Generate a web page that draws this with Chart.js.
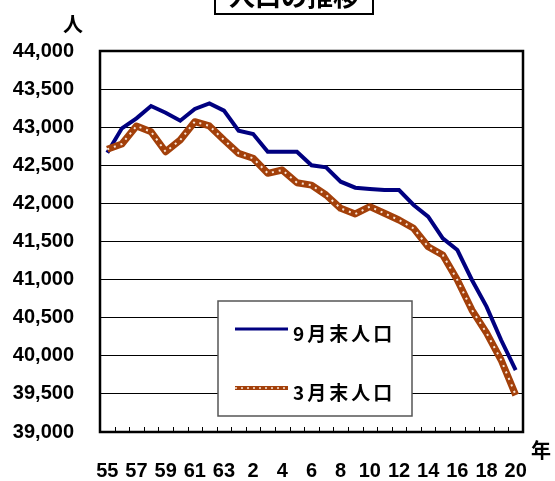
<!DOCTYPE html>
<html>
<head>
<meta charset="utf-8">
<script src="https://cdn.jsdelivr.net/npm/chart.js@4/dist/chart.umd.min.js"></script>
<style>
  html, body { margin:0; padding:0; background:#fff; }
  #wrap { width:555px; height:481px; }
</style>
</head>
<body>
<div id="wrap"><canvas id="popChart" width="555" height="481"></canvas></div>
<script>
// 昭和55年〜平成20年
const years = ['55','56','57','58','59','60','61','62','63','1','2','3','4','5','6','7','8','9','10','11','12','13','14','15','16','17','18','19','20'];
const sepPop = [42665,42985,43117,43278,43190,43085,43239,43313,43217,42954,42911,42678,42678,42678,42500,42474,42285,42206,42189,42176,42176,41979,41825,41542,41388,40995,40645,40207,39813];
const marPop = [42710,42780,43016,42941,42678,42832,43072,43016,42832,42657,42592,42395,42438,42272,42240,42110,41935,41861,41957,41870,41782,41673,41431,41323,40995,40601,40300,39945,39485];
const yMin = 39000, yMax = 44000, yStep = 500;

const BLUE = '#000080', BROWN = '#a3400a', DOT = 'rgba(255,238,225,0.95)';
const JP = '"Noto Sans CJK JP", sans-serif';

// white dots on the 3月 line
function dotPath(ctx, pts){
  ctx.beginPath();
  pts.forEach((p,i)=>{ i ? ctx.lineTo(p.x,p.y) : ctx.moveTo(p.x,p.y); });
}

const decor = {
  id:'decor',
  afterDatasetsDraw(chart){
    const ctx = chart.ctx, a = chart.chartArea;
    const meta = chart.getDatasetMeta(1);
    ctx.save();
    ctx.beginPath(); ctx.rect(a.left,a.top,a.right-a.left,a.bottom-a.top); ctx.clip();
    dotPath(ctx, meta.data);
    ctx.strokeStyle = DOT; ctx.lineWidth = 2; ctx.setLineDash([2,5]); ctx.lineJoin='round';
    ctx.stroke();
    ctx.restore();
  },
  afterDraw(chart){
    const ctx = chart.ctx, a = chart.chartArea, xs = chart.scales.x;
    ctx.save();
    // plot frame
    ctx.strokeStyle = '#000'; ctx.lineWidth = 2.5;
    ctx.strokeRect(a.left, a.top, a.right-a.left, a.bottom-a.top);
    // inward tick marks on x axis
    const step = xs.getPixelForValue(1) - xs.getPixelForValue(0);
    ctx.lineWidth = 1;
    for(let i=0;i<=years.length;i++){
      const x = Math.round(xs.getPixelForValue(0) - step/2 + i*step) + 0.5;
      ctx.beginPath(); ctx.moveTo(x, a.bottom); ctx.lineTo(x, a.bottom-5); ctx.stroke();
    }
    // legend
    const lx=218, ly=301, lw=194, lh=115;
    ctx.fillStyle='#fff'; ctx.fillRect(lx,ly,lw,lh);
    ctx.strokeStyle='#555'; ctx.lineWidth=1.5; ctx.strokeRect(lx,ly,lw,lh);
    const ds = chart.data.datasets;
    const rows = [ {d:ds[0], y:329}, {d:ds[1], y:388} ];
    rows.forEach((r,k)=>{
      ctx.setLineDash([]);
      ctx.beginPath(); ctx.moveTo(235,r.y); ctx.lineTo(288,r.y);
      ctx.strokeStyle = r.d.borderColor; ctx.lineWidth = k ? 4 : 3; ctx.stroke();
      if(k){ ctx.strokeStyle = DOT; ctx.lineWidth = 1.5; ctx.setLineDash([2,4]); ctx.stroke(); ctx.setLineDash([]); }
      ctx.fillStyle='#000'; ctx.font = 'bold 19px '+JP; ctx.textBaseline='middle'; ctx.textAlign='left';
      ctx.letterSpacing = '3px';
      ctx.fillText(r.d.label, 293, r.y+5);
      ctx.letterSpacing = '0px';
    });
    // title box (cut at top)
    ctx.strokeStyle='#000'; ctx.lineWidth=2;
    ctx.strokeRect(215,-10,158,24);
    ctx.font='bold 26px '+JP; ctx.textAlign='center'; ctx.textBaseline='alphabetic';
    ctx.fillText('人口の推移', 294, 6);
    // unit labels
    ctx.font='bold 20px '+JP; ctx.textBaseline='middle';
    ctx.fillText('人', 73, 24);
    ctx.fillText('年', 541, 450);
    ctx.restore();
  }
};

new Chart(document.getElementById('popChart'), {
  type:'line',
  data:{
    labels: years,
    datasets:[
      {label:'9月末人口', data:sepPop, borderColor:BLUE, borderWidth:4, pointRadius:0, tension:0, order:1},
      {label:'3月末人口', data:marPop, borderColor:BROWN, borderWidth:7, pointRadius:0, tension:0, order:0, borderJoinStyle:'round'}
    ]
  },
  options:{
    responsive:false, animation:false,
    layout:{padding:{left:0, right:32, top:51, bottom:0}},
    plugins:{legend:{display:false}, tooltip:{enabled:false}, title:{display:false}},
    scales:{
      x:{
        offset:true,
        grid:{display:false, drawTicks:false},
        border:{display:false},
        afterFit(s){ s.height = 49; },
        ticks:{autoSkip:false, maxRotation:0, padding:27, color:'#000',
          font:{family:'"Liberation Sans", Arial, sans-serif', size:20, weight:'bold'},
          callback(v,i){ return i%2===0 ? years[i] : ''; }}
      },
      y:{
        min:yMin, max:yMax,
        grid:{color:'#000', lineWidth:1, drawTicks:false},
        border:{display:false},
        afterFit(s){ s.width = 100; },
        ticks:{stepSize:yStep, padding:26, color:'#000',
          font:{family:'"Liberation Sans", Arial, sans-serif', size:20, weight:'bold'},
          callback(v){ return v.toLocaleString('en-US'); }}
      }
    }
  },
  plugins:[decor]
});
</script>
</body>
</html>
